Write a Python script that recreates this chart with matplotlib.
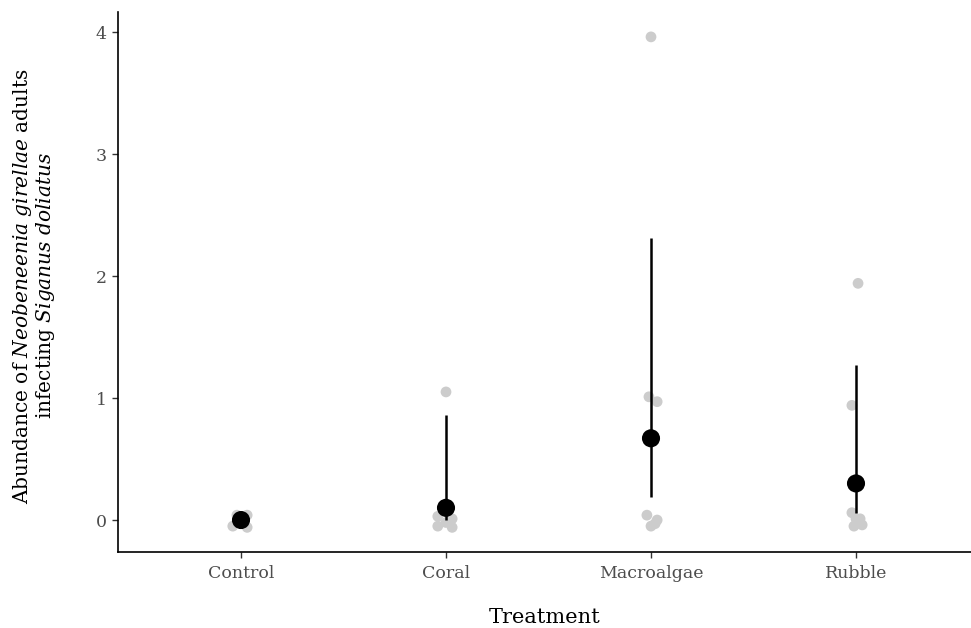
import matplotlib
matplotlib.use("Agg")
import matplotlib.pyplot as plt

plt.rcParams["mathtext.fontset"] = "custom"
plt.rcParams["mathtext.rm"] = "DejaVu Serif"
plt.rcParams["mathtext.it"] = "DejaVu Serif:italic"

# Treatment groups
categories = ["Control", "Coral", "Macroalgae", "Rubble"]

# Individual fish counts (with small jitter applied for display)
obs_group = [0, 0, 0, 0, 0,
             1, 1, 1, 1, 1, 1,
             2, 2, 2, 2, 2, 2, 2,
             3, 3, 3, 3, 3, 3, 3]
obs_xoff = [-0.04, 0.03, -0.02, 0.03, 0.00,
            -0.04, 0.03, -0.04, 0.03, 0.00, 0.00,
            0.00, -0.01, 0.03, -0.02, 0.02, 0.00, 0.03,
            0.01, -0.02, -0.02, 0.02, -0.01, 0.03, 0.00]
obs_value = [-0.05, -0.06, 0.04, 0.04, 0.00,
             0.03, 0.01, -0.05, -0.06, -0.02, 1.05,
             3.96, 1.01, 0.97, 0.04, -0.03, -0.05, 0.00,
             1.94, 0.94, 0.06, 0.01, -0.05, -0.04, 0.01]

# Group means with interval bounds
mean_value = [0.00, 0.10, 0.67, 0.30]
lower = [0.00, 0.00, 0.19, 0.06]
upper = [0.00, 0.86, 2.31, 1.27]

W, H, DPI = 971, 628, 100
fig = plt.figure(figsize=(W / DPI, H / DPI), dpi=DPI)
ax = fig.add_axes([118 / W, (H - 552) / H, (971 - 118) / W, (552 - 12) / H])

xpos = list(range(1, len(categories) + 1))

ax.scatter([xpos[g] + dx for g, dx in zip(obs_group, obs_xoff)], obs_value,
           s=60, color="#CCCCCC", edgecolors="none", zorder=2)

for x, lo, hi in zip(xpos, lower, upper):
    ax.plot([x, x], [lo, hi], color="black", lw=1.8, solid_capstyle="butt", zorder=3)
ax.scatter(xpos, mean_value, s=170, color="black", edgecolors="none", zorder=4)

ax.set_xlim(0.4, 0.4 + (971 - 118) / 205)
ax.set_ylim(-0.262, 4.164)
ax.set_xticks(xpos)
ax.set_xticklabels(categories)
ax.set_yticks([0, 1, 2, 3, 4])

serif = "DejaVu Serif"
for lab in ax.get_xticklabels() + ax.get_yticklabels():
    lab.set_family(serif)
    lab.set_fontsize(12.5)
    lab.set_color("#4D4D4D")

ax.tick_params(axis="both", length=4, width=1, color="#333333", pad=4)
ax.tick_params(axis="x", pad=5)

for side in ["top", "right"]:
    ax.spines[side].set_visible(False)
for side in ["left", "bottom"]:
    ax.spines[side].set_linewidth(1.2)
    ax.spines[side].set_color("black")

ax.set_xlabel("Treatment", family=serif, fontsize=15, labelpad=19)
ax.set_ylabel("Abundance of $\\it{Neobeneenia\\ girellae}$ adults\ninfecting $\\it{Siganus\\ doliatus}$",
              family=serif, fontsize=14.5, linespacing=1.05)
ax.yaxis.set_label_coords(-0.071, 0.493)

fig.savefig("out.png", dpi=DPI, facecolor="white")
